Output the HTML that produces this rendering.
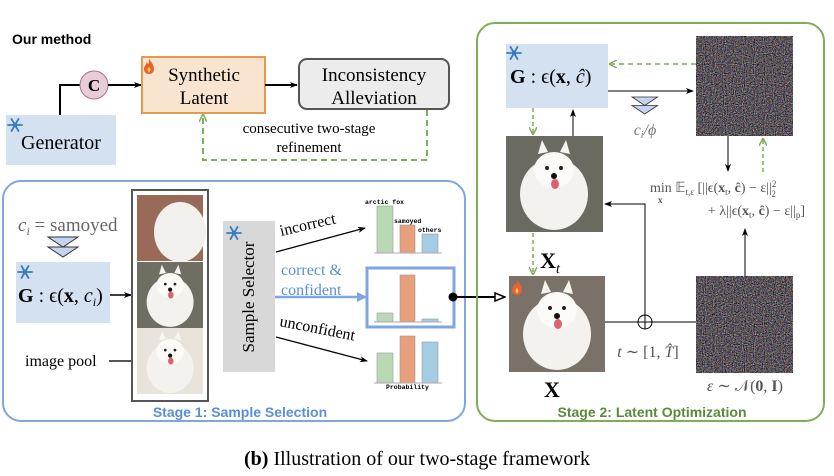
<!DOCTYPE html>
<html><head><meta charset="utf-8"><style>
html,body{margin:0;padding:0;background:#fff;}
svg{display:block;}
.s{font-family:"Liberation Serif",serif;}
.a{font-family:"Liberation Sans",sans-serif;}
.m{font-family:"Liberation Mono",monospace;}
</style></head><body>
<svg width="834" height="476" viewBox="0 0 834 476" xmlns="http://www.w3.org/2000/svg">
<defs>
<filter id="nz" x="0" y="0" width="100%" height="100%" color-interpolation-filters="sRGB">
<feTurbulence type="fractalNoise" baseFrequency="0.9" numOctaves="2" seed="3"/>
<feColorMatrix type="matrix" values="1.3 0.3 0 0 -0.45  0.25 1.2 0.2 0 -0.5  0 0.3 1.3 0 -0.45  0 0 0 0 1"/>
</filter>
<marker id="ar" markerWidth="8" markerHeight="8" refX="7" refY="4" orient="auto" markerUnits="userSpaceOnUse"><path d="M0,1 L8,4 L0,7 L2,4 Z" fill="#000"/></marker>
<marker id="ag" markerWidth="8" markerHeight="8" refX="7" refY="4" orient="auto" markerUnits="userSpaceOnUse"><path d="M0,0 L8,4 L0,8" fill="none" stroke="#7fae5a" stroke-width="1.5"/></marker>
<marker id="ab" markerWidth="10" markerHeight="10" refX="9" refY="5" orient="auto" markerUnits="userSpaceOnUse"><path d="M0,0 L10,5 L0,10 Z" fill="#7fa6e2"/></marker>
<marker id="ao" markerWidth="12" markerHeight="10" refX="11" refY="5" orient="auto" markerUnits="userSpaceOnUse"><path d="M1,1 L11,5 L1,9 Z" fill="#fff" stroke="#000" stroke-width="1.5"/></marker>
<g id="dog"><ellipse cx="48" cy="58" rx="34" ry="36" fill="#f4f2ee"/><ellipse cx="48" cy="34" rx="20" ry="18" fill="#fbfaf7"/><circle cx="41" cy="32" r="2" fill="#222"/><circle cx="55" cy="32" r="2" fill="#222"/><circle cx="48" cy="40" r="3" fill="#111"/><ellipse cx="49" cy="48" rx="4" ry="5" fill="#e06070"/><path d="M32,18 L36,4 L42,16 Z M54,16 L60,4 L64,18 Z" fill="#f7f5f0"/></g>
<g id="snow" stroke="#3a7cc0" stroke-width="1.8" stroke-linecap="round"><line x1="-7" y1="0" x2="7" y2="0"/><line x1="-3.5" y1="-6" x2="3.5" y2="6"/><line x1="3.5" y1="-6" x2="-3.5" y2="6"/><circle r="1.5" fill="#3a7cc0"/></g>
<g id="fire"><path d="M5,0 C8,4 10,6 10,10 C10,13 8,15 5,15 C2,15 0,13 0,10 C0,7 2,6 3,3 C4,6 5,6 5,0 Z" fill="#e8622a"/><path d="M5,8 C7,10 7,12 5,13.5 C3,12 3,10 5,8 Z" fill="#fbc070"/></g>
<g id="tri"><path d="M0,0 L30,0 L15,10 Z M0,10 L30,10 L15,20 Z" fill="#c5d5f0" stroke="#333" stroke-width="1"/></g>
</defs>

<!-- top part -->
<text x="12" y="44" class="a" font-size="14" font-weight="bold">Our method</text>
<rect x="6" y="115" width="110" height="50" fill="#d4e1f0"/>
<use href="#snow" x="15" y="125"/>
<text x="61" y="149" class="s" font-size="20" text-anchor="middle">Generator</text>
<path d="M60,115 V85 H80" fill="none" stroke="#000" stroke-width="2"/>
<circle cx="94" cy="85" r="14" fill="#e8cdd8" stroke="#b07090" stroke-width="1"/>
<text x="94" y="91" class="s" font-size="17" font-weight="bold" text-anchor="middle">C</text>
<line x1="108" y1="85" x2="141" y2="85" stroke="#000" stroke-width="2" marker-end="url(#ar)"/>
<rect x="142" y="57" width="123" height="56" fill="#f9e4d0" stroke="#e39a50" stroke-width="2"/>
<use href="#fire" x="144" y="59"/>
<text x="204" y="81" class="s" font-size="19" text-anchor="middle">Synthetic</text>
<text x="204" y="104" class="s" font-size="19" text-anchor="middle">Latent</text>
<line x1="265" y1="85" x2="297" y2="85" stroke="#000" stroke-width="2" marker-end="url(#ar)"/>
<rect x="299" y="59" width="150" height="50" rx="8" fill="#ececec" stroke="#555" stroke-width="2"/>
<text x="374" y="81" class="s" font-size="19" text-anchor="middle">Inconsistency</text>
<text x="374" y="104" class="s" font-size="19" text-anchor="middle">Alleviation</text>
<path d="M427,110 V160 H203 V115" fill="none" stroke="#7fae5a" stroke-width="2" stroke-dasharray="6,4" marker-end="url(#ag)"/>
<text x="309" y="133" class="s" font-size="15" text-anchor="middle">consecutive two-stage</text>
<text x="309" y="152" class="s" font-size="15" text-anchor="middle">refinement</text>

<!-- Stage 1 -->
<rect x="3" y="181" width="462" height="240" rx="18" fill="none" stroke="#7fa6e2" stroke-width="2"/>
<text x="240" y="417" class="a" font-size="14" font-weight="bold" fill="#5b8ed9" text-anchor="middle">Stage 1: Sample Selection</text>
<text x="18" y="231" class="s" font-size="19" fill="#666"><tspan font-style="italic">c<tspan font-size="12" dy="4">i</tspan></tspan><tspan dy="-4"> = samoyed</tspan></text>
<use href="#tri" x="48" y="237"/>
<rect x="16" y="262" width="94" height="61" fill="#d4e1f0"/>
<use href="#snow" x="25" y="272"/>
<text x="18" y="302" class="s" font-size="20"><tspan font-weight="bold">G</tspan> : ϵ(<tspan font-weight="bold">x</tspan>, <tspan font-style="italic">c<tspan font-size="12" dy="4">i</tspan></tspan><tspan dy="-4">)</tspan></text>
<line x1="110" y1="295" x2="131" y2="295" stroke="#000" stroke-width="1.5" marker-end="url(#ar)"/>
<rect x="132" y="190" width="76" height="211" fill="#fff" stroke="#555" stroke-width="2"/>
<rect x="137" y="195" width="66" height="66" fill="#9a6a58"/>
<ellipse cx="180" cy="232" rx="26" ry="30" fill="#f2f0ec"/>
<rect x="137" y="262" width="66" height="66" fill="#6e6e62"/>
<use href="#dog" transform="translate(137,262) scale(0.69)"/>
<rect x="137" y="328" width="66" height="66" fill="#e8e4dc"/>
<use href="#dog" transform="translate(137,328) scale(0.69)"/>
<text x="25" y="366" class="s" font-size="16">image pool</text>
<line x1="109" y1="361" x2="132" y2="361" stroke="#555" stroke-width="2"/>
<rect x="223" y="221" width="52" height="151" fill="#d8d8d8"/>
<use href="#snow" x="234" y="233"/>
<text transform="translate(254,297) rotate(-90)" class="s" font-size="17" text-anchor="middle">Sample Selector</text>
<line x1="276" y1="252" x2="365" y2="228" stroke="#000" stroke-width="1.2" marker-end="url(#ar)"/>
<text transform="translate(281,236) rotate(-13)" class="s" font-size="16">incorrect</text>
<text x="281" y="275" class="s" font-size="16" fill="#5b8ed9">correct &amp;</text>
<text x="281" y="295" class="s" font-size="16" fill="#5b8ed9">confident</text>
<line x1="275" y1="297" x2="366" y2="297" stroke="#7fa6e2" stroke-width="2.5" marker-end="url(#ab)"/>
<text transform="translate(279,326) rotate(11)" class="s" font-size="16">unconfident</text>
<line x1="276" y1="337" x2="367" y2="361" stroke="#000" stroke-width="1.2" marker-end="url(#ar)"/>
<!-- charts -->
<g stroke-width="0.6">
<rect x="377" y="206" width="16" height="47" fill="#b9d9b4" stroke="#999"/>
<rect x="400" y="225" width="15" height="28" fill="#e8a07c" stroke="#999"/>
<rect x="422" y="234" width="16" height="19" fill="#a4cce2" stroke="#999"/>
<line x1="374" y1="253" x2="442" y2="253" stroke="#aaa" stroke-width="1"/>
</g>
<text x="365" y="204" class="m" font-size="6.5" font-weight="bold">arctic fox</text>
<text x="394" y="223" class="m" font-size="6.5" font-weight="bold">samoyed</text>
<text x="418" y="232" class="m" font-size="6.5" font-weight="bold">others</text>
<rect x="367" y="268" width="87" height="59" fill="#fff" stroke="#7fa6e2" stroke-width="3"/>
<g stroke-width="0.6">
<rect x="377" y="313" width="16" height="9" fill="#b9d9b4" stroke="#999"/>
<rect x="400" y="275" width="15" height="47" fill="#e8a07c" stroke="#999"/>
<rect x="422" y="319" width="16" height="3" fill="#a4cce2" stroke="#999"/>
<line x1="374" y1="322" x2="442" y2="322" stroke="#aaa" stroke-width="1"/>
<rect x="377" y="353" width="16" height="30" fill="#b9d9b4" stroke="#999"/>
<rect x="400" y="336" width="15" height="47" fill="#e8a07c" stroke="#999"/>
<rect x="422" y="342" width="16" height="41" fill="#a4cce2" stroke="#999"/>
<line x1="374" y1="383" x2="442" y2="383" stroke="#aaa" stroke-width="1"/>
</g>
<text x="386" y="389" class="m" font-size="6.5" font-weight="bold">Probability</text>
<circle cx="453" cy="297" r="4.5" fill="#000"/>
<line x1="453" y1="297" x2="505" y2="297" stroke="#000" stroke-width="2" marker-end="url(#ao)"/>

<!-- Stage 2 -->
<rect x="477" y="23" width="347" height="398" rx="18" fill="none" stroke="#7fae5a" stroke-width="2"/>
<text x="652" y="417" class="a" font-size="14" font-weight="bold" fill="#5a8a3a" text-anchor="middle">Stage 2: Latent Optimization</text>
<rect x="506" y="44" width="102" height="64" fill="#d4e1f0"/>
<use href="#snow" x="514" y="53"/>
<text x="510" y="83" class="s" font-size="20"><tspan font-weight="bold">G</tspan> : ϵ(<tspan font-weight="bold">x</tspan>, <tspan font-style="italic">ĉ</tspan>)</text>
<rect x="696" y="36" width="97" height="100" fill="#807080" filter="url(#nz)"/>
<line x1="696" y1="64" x2="610" y2="64" stroke="#7fae5a" stroke-width="1.5" stroke-dasharray="5,4" marker-end="url(#ag)"/>
<line x1="608" y1="91" x2="693" y2="91" stroke="#000" stroke-width="1" marker-end="url(#ar)"/>
<use href="#tri" transform="translate(632,97) scale(0.85)"/>
<text x="645" y="135" class="s" font-size="16" fill="#777" text-anchor="middle" font-style="italic">c<tspan font-size="10" dy="3">i</tspan><tspan dy="-3">/ϕ</tspan></text>
<rect x="506" y="136" width="97" height="96" fill="#6a6a60"/>
<use href="#dog" x="506" y="136"/>
<line x1="573" y1="136" x2="573" y2="110" stroke="#000" stroke-width="1" marker-end="url(#ar)"/>
<line x1="533" y1="108" x2="533" y2="134" stroke="#7fae5a" stroke-width="1.5" stroke-dasharray="4,3" marker-end="url(#ag)"/>
<text x="550" y="268" class="s" font-size="22" font-weight="bold" text-anchor="middle">X<tspan font-size="14" font-weight="normal" font-style="italic" dy="5">t</tspan></text>
<line x1="533" y1="233" x2="533" y2="274" stroke="#7fae5a" stroke-width="1.5" stroke-dasharray="4,3" marker-end="url(#ag)"/>
<rect x="509" y="276" width="96" height="96" fill="#7a7268"/>
<use href="#dog" x="509" y="276"/>
<use href="#fire" x="512" y="280"/>
<text x="552" y="397" class="s" font-size="22" font-weight="bold" text-anchor="middle">X</text>
<line x1="605" y1="322" x2="696" y2="322" stroke="#000" stroke-width="1"/>
<circle cx="645" cy="322" r="7" fill="#fff" stroke="#000" stroke-width="1"/>
<path d="M638,322 H652 M645,315 V329" stroke="#000" stroke-width="1"/>
<path d="M645,315 V204 H605" fill="none" stroke="#000" stroke-width="1" marker-end="url(#ar)"/>
<text x="648" y="357" class="s" font-size="16" fill="#555" text-anchor="middle"><tspan font-style="italic">t</tspan> ∼ [1, <tspan font-style="italic">T̂</tspan>]</text>
<rect x="696" y="276" width="97" height="97" fill="#807080" filter="url(#nz)"/>
<text x="745" y="391" class="s" font-size="16" fill="#555" text-anchor="middle"><tspan font-style="italic">ε</tspan> ∼ 𝒩(<tspan font-weight="bold">0</tspan>, <tspan font-weight="bold">I</tspan>)</text>
<line x1="728" y1="136" x2="728" y2="171" stroke="#000" stroke-width="1" marker-end="url(#ar)"/>
<line x1="763" y1="172" x2="763" y2="139" stroke="#7fae5a" stroke-width="1.5" stroke-dasharray="4,3" marker-end="url(#ag)"/>
<text x="650" y="192" class="s" font-size="14" fill="#555">min 𝔼<tspan font-size="9" dy="3">t,ε</tspan><tspan dy="-3"> [||ϵ(</tspan><tspan font-weight="bold">x</tspan><tspan font-size="9" dy="3">t</tspan><tspan dy="-3">, </tspan><tspan font-weight="bold">ĉ</tspan>) − ε||<tspan font-size="9" dy="-5">2</tspan><tspan font-size="9" dx="-5" dy="10">2</tspan></text>
<text x="658" y="203" class="s" font-size="9" fill="#555" font-weight="bold">x</text>
<text x="805" y="215" class="s" font-size="14" fill="#555" text-anchor="end">+ λ||ϵ(<tspan font-weight="bold">x</tspan><tspan font-size="9" dy="3">t</tspan><tspan dy="-3">, </tspan><tspan font-weight="bold">ĉ</tspan>) − ε||<tspan font-size="9" dy="3">p</tspan><tspan dy="-3">]</tspan></text>
<line x1="745" y1="276" x2="745" y2="229" stroke="#000" stroke-width="1" marker-end="url(#ar)"/>

<!-- caption -->
<text x="417" y="465" class="s" font-size="20" text-anchor="middle"><tspan font-weight="bold">(b)</tspan> Illustration of our two-stage framework</text>
</svg>
</body></html>
